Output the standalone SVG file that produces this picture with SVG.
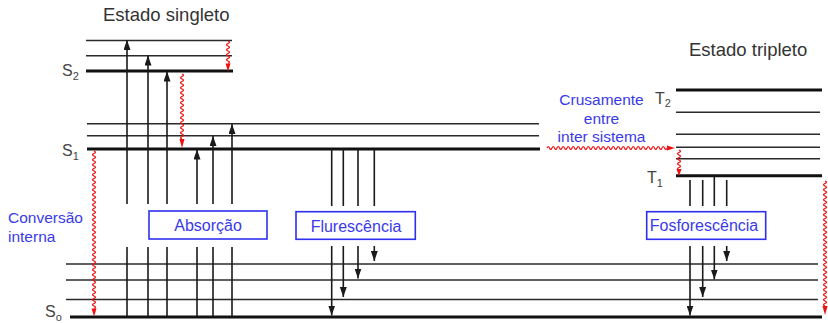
<svg xmlns="http://www.w3.org/2000/svg" width="828" height="323" viewBox="0 0 828 323">
  <style>
    .thick { stroke: #111; stroke-width: 3; fill: none; }
    .thin { stroke: #2a2a2a; stroke-width: 1.5; fill: none; }
    .tr { stroke: #1a1a1a; stroke-width: 1.6; fill: none; }
    .arr { stroke: #1a1a1a; stroke-width: 1.6; fill: none; marker-end: url(#head); }
    .wave { stroke: #ee1111; stroke-width: 1.2; fill: none; }
    .wavehead { fill: #ee1111; }
    .box { fill: #ffffff; stroke: #2f2ff0; stroke-width: 1.6; }
    .boxtxt { font-family: "Liberation Sans", Arial, sans-serif; font-size: 16px; fill: #3a3ae8; text-anchor: middle; }
    .blue { font-family: "Liberation Sans", Arial, sans-serif; font-size: 15.5px; fill: #3a3ae8; }
    .title { font-family: "Liberation Sans", Arial, sans-serif; font-size: 18.5px; fill: #333; }
    .lvl { font-family: "Liberation Sans", Arial, sans-serif; font-size: 16px; fill: #444; }
  </style>
  <defs>
    <marker id="head" markerUnits="userSpaceOnUse" markerWidth="10" markerHeight="7" refX="10" refY="3.5" viewBox="0 0 10 7" orient="auto">
      <path d="M0,0 L10,3.5 L0,7 z" fill="#1a1a1a"/>
    </marker>
  </defs>

  <!-- titles -->
  <text class="title" x="103" y="21">Estado singleto</text>
  <text class="title" x="689" y="56">Estado tripleto</text>

  <!-- singlet levels -->
  <g id="singlet-levels">
    <line class="thin" x1="86" y1="40.5" x2="232" y2="40.5"/>
    <line class="thin" x1="86" y1="55.7" x2="232" y2="55.7"/>
    <line class="thick" x1="86" y1="71" x2="233" y2="71"/>
    <line class="thin" x1="87" y1="123.7" x2="539" y2="123.7"/>
    <line class="thin" x1="87" y1="135.7" x2="539" y2="135.7"/>
    <line class="thick" x1="87" y1="149" x2="540" y2="149"/>
    <text class="lvl" x="62" y="76">S<tspan font-size="11" dy="4">2</tspan></text>
    <text class="lvl" x="62" y="156">S<tspan font-size="11" dy="4">1</tspan></text>
  </g>

  <!-- ground state levels -->
  <g id="ground-levels">
    <line class="thin" x1="66" y1="264" x2="818" y2="264"/>
    <line class="thin" x1="66" y1="280" x2="818" y2="280"/>
    <line class="thin" x1="66" y1="299.5" x2="818" y2="299.5"/>
    <line class="thick" x1="70" y1="317" x2="822" y2="317"/>
    <text class="lvl" x="45" y="317">S<tspan font-size="11" dy="4">o</tspan></text>
  </g>

  <!-- triplet levels -->
  <g id="triplet-levels">
    <line class="thick" x1="676" y1="90" x2="822" y2="90"/>
    <line class="thin" x1="676" y1="112.3" x2="820" y2="112.3"/>
    <line class="thin" x1="676" y1="134.3" x2="820" y2="134.3"/>
    <line class="thin" x1="676" y1="147.3" x2="820" y2="147.3"/>
    <line class="thin" x1="676" y1="158.7" x2="820" y2="158.7"/>
    <line class="thick" x1="676" y1="175.7" x2="822" y2="175.7"/>
    <text class="lvl" x="655" y="104" font-size="15">T<tspan font-size="11" dy="3">2</tspan></text>
    <text class="lvl" x="647" y="183" font-size="15">T<tspan font-size="11" dy="4">1</tspan></text>
  </g>

  <!-- transitions -->
  <g id="connectors">
    <!-- absorption: lower parts -->
    <line class="tr" x1="127" y1="316" x2="127" y2="247"/>
    <line class="tr" x1="148" y1="316" x2="148" y2="247"/>
    <line class="tr" x1="167" y1="316" x2="167" y2="247"/>
    <line class="tr" x1="197" y1="316" x2="197" y2="247"/>
    <line class="tr" x1="213" y1="316" x2="213" y2="247"/>
    <line class="tr" x1="232" y1="316" x2="232" y2="247"/>
    <!-- absorption: upper parts with heads -->
    <line class="arr" x1="127" y1="204" x2="127" y2="40"/>
    <line class="arr" x1="148" y1="204" x2="148" y2="55.5"/>
    <line class="arr" x1="167" y1="204" x2="167" y2="71.5"/>
    <line class="arr" x1="197" y1="204" x2="197" y2="149.5"/>
    <line class="arr" x1="213" y1="204" x2="213" y2="136"/>
    <line class="arr" x1="232" y1="204" x2="232" y2="124"/>

    <!-- fluorescence -->
    <line class="tr" x1="331.7" y1="149" x2="331.7" y2="206"/>
    <line class="tr" x1="343.3" y1="149" x2="343.3" y2="206"/>
    <line class="tr" x1="358" y1="149" x2="358" y2="206"/>
    <line class="tr" x1="374.3" y1="149" x2="374.3" y2="206"/>
    <line class="arr" x1="331.7" y1="246" x2="331.7" y2="315.5"/>
    <line class="arr" x1="343.3" y1="246" x2="343.3" y2="297"/>
    <line class="arr" x1="358" y1="246" x2="358" y2="278.5"/>
    <line class="arr" x1="374.3" y1="246" x2="374.3" y2="261"/>

    <!-- phosphorescence -->
    <line class="tr" x1="690" y1="180" x2="690" y2="206"/>
    <line class="tr" x1="702.7" y1="180" x2="702.7" y2="206"/>
    <line class="tr" x1="714.3" y1="176" x2="714.3" y2="206"/>
    <line class="tr" x1="726.7" y1="180" x2="726.7" y2="206"/>
    <line class="arr" x1="690" y1="246" x2="690" y2="315.5"/>
    <line class="arr" x1="702.7" y1="246" x2="702.7" y2="297"/>
    <line class="arr" x1="714.3" y1="246" x2="714.3" y2="279.5"/>
    <line class="arr" x1="726.7" y1="246" x2="726.7" y2="261"/>

    <!-- radiationless relaxation (wavy) -->
    <path class="wave" d="M228,41 q3,1.25 0,2.5 t0,2.5 t0,2.5 t0,2.5 t0,2.5 t0,2.5 t0,2.5 t0,2.5 t0,2.5"/>
    <polygon class="wavehead" points="225.5,63.5 230.5,63.5 228,71.5"/>

    <path class="wave" d="M182,74 q3,1.25 0,2.5 t0,2.5 t0,2.5 t0,2.5 t0,2.5 t0,2.5 t0,2.5 t0,2.5 t0,2.5 t0,2.5 t0,2.5 t0,2.5 t0,2.5 t0,2.5 t0,2.5 t0,2.5 t0,2.5 t0,2.5 t0,2.5 t0,2.5 t0,2.5 t0,2.5 t0,2.5 t0,2.5 t0,2.5 t0,2.5"/>
    <polygon class="wavehead" points="179.5,139 184.5,139 182,148"/>

    <path class="wave" d="M94,151 q3,1.25 0,2.5 t0,2.5 t0,2.5 t0,2.5 t0,2.5 t0,2.5 t0,2.5 t0,2.5 t0,2.5 t0,2.5 t0,2.5 t0,2.5 t0,2.5 t0,2.5 t0,2.5 t0,2.5 t0,2.5 t0,2.5 t0,2.5 t0,2.5 t0,2.5 t0,2.5 t0,2.5 t0,2.5 t0,2.5 t0,2.5 t0,2.5 t0,2.5 t0,2.5 t0,2.5 t0,2.5 t0,2.5 t0,2.5 t0,2.5 t0,2.5 t0,2.5 t0,2.5 t0,2.5 t0,2.5 t0,2.5 t0,2.5 t0,2.5 t0,2.5 t0,2.5 t0,2.5 t0,2.5 t0,2.5 t0,2.5 t0,2.5 t0,2.5 t0,2.5 t0,2.5 t0,2.5 t0,2.5 t0,2.5 t0,2.5 t0,2.5 t0,2.5 t0,2.5 t0,2.5 t0,2.5 t0,2.5 t0,2.5"/>
    <polygon class="wavehead" points="91.5,308.5 96.5,308.5 94,316.5"/>

    <path class="wave" d="M547,148 q1.25,-3 2.5,0 t2.5,0 t2.5,0 t2.5,0 t2.5,0 t2.5,0 t2.5,0 t2.5,0 t2.5,0 t2.5,0 t2.5,0 t2.5,0 t2.5,0 t2.5,0 t2.5,0 t2.5,0 t2.5,0 t2.5,0 t2.5,0 t2.5,0 t2.5,0 t2.5,0 t2.5,0 t2.5,0 t2.5,0 t2.5,0 t2.5,0 t2.5,0 t2.5,0 t2.5,0 t2.5,0 t2.5,0 t2.5,0 t2.5,0 t2.5,0 t2.5,0 t2.5,0 t2.5,0 t2.5,0 t2.5,0 t2.5,0 t2.5,0 t2.5,0 t2.5,0 t2.5,0 t2.5,0 t2.5,0 t2.5,0"/>
    <polygon class="wavehead" points="667,145.5 667,150.5 675,148"/>

    <path class="wave" d="M679,150 q3,1.25 0,2.5 t0,2.5 t0,2.5 t0,2.5 t0,2.5 t0,2.5 t0,2.5 t0,2.5"/>
    <polygon class="wavehead" points="676.5,169 681.5,169 679,176"/>

    <path class="wave" d="M825,181 q3,1.25 0,2.5 t0,2.5 t0,2.5 t0,2.5 t0,2.5 t0,2.5 t0,2.5 t0,2.5 t0,2.5 t0,2.5 t0,2.5 t0,2.5 t0,2.5 t0,2.5 t0,2.5 t0,2.5 t0,2.5 t0,2.5 t0,2.5 t0,2.5 t0,2.5 t0,2.5 t0,2.5 t0,2.5 t0,2.5 t0,2.5 t0,2.5 t0,2.5 t0,2.5 t0,2.5 t0,2.5 t0,2.5 t0,2.5 t0,2.5 t0,2.5 t0,2.5 t0,2.5 t0,2.5 t0,2.5 t0,2.5 t0,2.5 t0,2.5 t0,2.5 t0,2.5 t0,2.5 t0,2.5 t0,2.5 t0,2.5 t0,2.5 t0,2.5"/>
    <polygon class="wavehead" points="822.5,306 827.5,306 825,315"/>
  </g>

  <!-- process labels -->
  <g id="absorcao">
    <rect class="box" x="149" y="211" width="118" height="28"/>
    <text class="boxtxt" x="208" y="231">Absorção</text>
  </g>
  <g id="fluorescencia">
    <rect class="box" x="296" y="211.7" width="119.3" height="27.6"/>
    <text class="boxtxt" x="356" y="231.5">Flurescência</text>
  </g>
  <g id="fosforescencia">
    <rect class="box" x="646.7" y="211.7" width="119" height="27.6"/>
    <text class="boxtxt" x="704" y="230.5">Fosforescência</text>
  </g>
  <g id="conversao-interna">
    <text class="blue" x="8" y="223">Conversão</text>
    <text class="blue" x="8" y="242">interna</text>
  </g>
  <g id="cruzamento">
    <text class="blue" x="601.5" y="105" text-anchor="middle" font-size="16">Crusamente</text>
    <text class="blue" x="601.5" y="123.5" text-anchor="middle" font-size="16">entre</text>
    <text class="blue" x="601.5" y="142" text-anchor="middle" font-size="16">inter sistema</text>
  </g>
</svg>
